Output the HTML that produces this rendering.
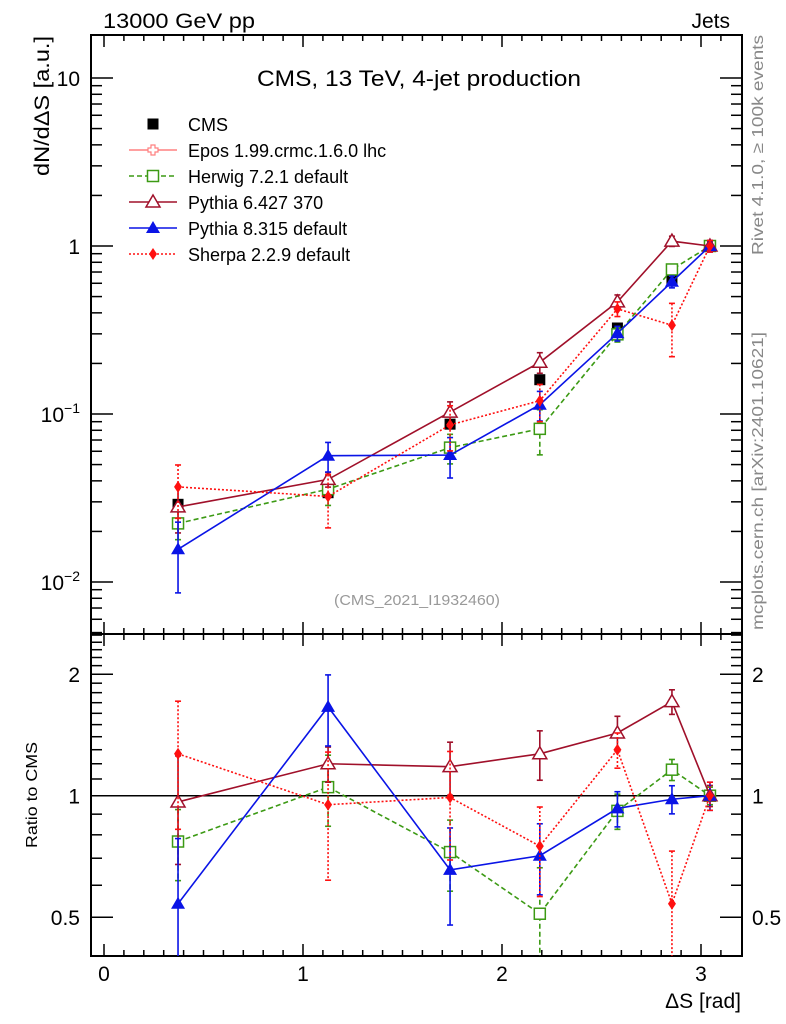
<!DOCTYPE html>
<html><head><meta charset="utf-8"><style>
body{margin:0;background:#fff;}
svg{display:block;font-family:"Liberation Sans",sans-serif;}
</style></head><body>
<svg id="c" width="786" height="1024" xmlns="http://www.w3.org/2000/svg">
<defs>
<clipPath id="cm"><rect x="91" y="35" width="651" height="599"/></clipPath>
<clipPath id="cr"><rect x="91" y="634" width="651" height="322"/></clipPath>
</defs>
<text x="103" y="28" font-size="21" textLength="152" lengthAdjust="spacingAndGlyphs">13000 GeV pp</text>
<text x="730" y="28" font-size="21" text-anchor="end">Jets</text>
<text x="257" y="86" font-size="22" textLength="324" lengthAdjust="spacingAndGlyphs">CMS, 13 TeV, 4-jet production</text>
<text x="334" y="605" font-size="15" fill="#999" textLength="166" lengthAdjust="spacingAndGlyphs">(CMS_2021_I1932460)</text>
<text transform="translate(49,36) rotate(-90)" font-size="21" text-anchor="end" textLength="140" lengthAdjust="spacingAndGlyphs">dN/dΔS [a.u.]</text>
<text transform="translate(37,848) rotate(-90)" font-size="16" textLength="106" lengthAdjust="spacingAndGlyphs">Ratio to CMS</text>
<text x="741" y="1008" font-size="21" text-anchor="end">ΔS [rad]</text>
<text transform="translate(763,255) rotate(-90)" font-size="16" fill="#888" textLength="220" lengthAdjust="spacingAndGlyphs">Rivet 4.1.0, ≥ 100k events</text>
<text transform="translate(763,630) rotate(-90)" font-size="16" fill="#888" textLength="298" lengthAdjust="spacingAndGlyphs">mcplots.cern.ch [arXiv:2401.10621]</text>
<g id="axes"></g>
<g id="marks"></g>
<g id="legend"></g>
</svg>
<script>
const xVals = [0.372, 1.126, 1.739, 2.19, 2.58, 2.854, 3.045];
const cmsVals = [0.029, 0.034, 0.087, 0.16, 0.325, 0.625, 1.0];
const cmsRelErr = [0.06, 0.05, 0.05, 0.05, 0.04, 0.04, 0.03];
const herwigRatio = [0.77, 1.05, 0.725, 0.51, 0.917, 1.16, 1.0];
const herwigRelErr = [0.2, 0.2, 0.2, 0.3, 0.1, 0.06, 0.05];
const py6Ratio = [0.965, 1.2, 1.18, 1.27, 1.43, 1.71, 1.0];
const py6RelErr = [0.3, 0.1, 0.15, 0.14, 0.1, 0.07, 0.06];
const py8Ratio = [0.54, 1.66, 0.655, 0.71, 0.93, 0.98, 1.0];
const py8RelErr = [0.45, 0.2, 0.27, 0.2, 0.1, 0.08, 0.08];
const sherpaRatio = [1.27, 0.95, 0.99, 0.75, 1.3, 0.54, 1.0];
const sherpaRelErr = [0.35, 0.35, 0.3, 0.25, 0.1, 0.35, 0.08];
const mainYTicks = [0.01, 0.1, 1, 10];
const mainYLabels = ["10⁻²", "10⁻¹", "1", "10"];
const ratioYTicks = [0.5, 1, 2];
const ratioYLabels = ["0.5", "1", "2"];
const xTicks = [0, 1, 2, 3];

const NS = "http://www.w3.org/2000/svg";
const L = 91, R = 742, T = 35, M = 634, B = 956;
const xs = v => 104 + 199 * v;
const ym = v => 246 - 168 * Math.log10(v);
const yr = v => 795.7 - 121.5 * Math.log2(v);
function mk(tag, attrs, parent) { const e = document.createElementNS(NS, tag); for (const k in attrs) e.setAttribute(k, attrs[k]); parent.appendChild(e); return e; }
const axes = document.getElementById('axes'), marks = document.getElementById('marks'), leg = document.getElementById('legend');

let f = mk('rect', {x: L, y: T, width: R - L, height: M - T, fill: 'none', stroke: '#000', 'stroke-width': 2}, axes);
 
f = mk('rect', {x: L, y: M, width: R - L, height: B - M, fill: 'none', stroke: '#000', 'stroke-width': 2}, axes);
 

for (let i = 0; i <= 31; i++) {
  const v = i / 10, x = xs(v); if (x > R) break;
  const len = i % 10 === 0 ? 12 : 6;
  [[T, 1], [M, -1], [M, 1], [B, -1]].forEach(([y0, d]) => mk('line', {x1: x, x2: x, y1: y0, y2: y0 + d * len, stroke: '#000', 'stroke-width': 1.5}, axes));
}
xTicks.forEach(v => { const t = mk('text', {x: xs(v), y: 981, 'font-size': 21, 'text-anchor': 'middle'}, axes); t.textContent = v;
    });

for (let e = -3; e <= 1; e++) for (let m = 1; m <= 9; m++) {
  const v = m * Math.pow(10, e), y = ym(v); if (y < T || y > M) continue;
  const len = m === 1 ? 22 : 11;
  mk('line', {x1: L, x2: L + len, y1: y, y2: y, stroke: '#000', 'stroke-width': 1.5}, axes);
  mk('line', {x1: R, x2: R - len, y1: y, y2: y, stroke: '#000', 'stroke-width': 1.5}, axes);
}
mainYTicks.forEach((v, i) => {
  const t = mk('text', {x: 80, y: ym(v) + 8, 'font-size': 21, 'text-anchor': 'end'}, axes);
  if (v < 1) { t.textContent = '10'; const s = mk('tspan', {dy: -9, 'font-size': 14}, t); s.textContent = v === 0.01 ? '−2' : '−1'; }
  else t.textContent = mainYLabels[i];
   
});
for (let i = 4; i <= 25; i++) {
  const v = i / 10, y = yr(v); if (y < M || y > B) continue;
  const len = (i === 5 || i === 10 || i === 20) ? 22 : 11;
  mk('line', {x1: L, x2: L + len, y1: y, y2: y, stroke: '#000', 'stroke-width': 1.5}, axes);
  mk('line', {x1: R, x2: R - len, y1: y, y2: y, stroke: '#000', 'stroke-width': 1.5}, axes);
}
ratioYTicks.forEach((v, i) => {
  let t = mk('text', {x: 80, y: yr(v) + 8, 'font-size': 21, 'text-anchor': 'end'}, axes); t.textContent = ratioYLabels[i];
   
  t = mk('text', {x: 752, y: yr(v) + 8, 'font-size': 21}, axes); t.textContent = ratioYLabels[i];
   
});
let ref = mk('line', {x1: L, x2: R, y1: yr(1), y2: yr(1), stroke: '#000', 'stroke-width': 1.5}, axes);
 

function marker(g, type, x, y, color) {
  if (type === 'fsq') mk('rect', {x: x - 5.5, y: y - 5.5, width: 11, height: 11, fill: '#000'}, g);
  else if (type === 'osq') mk('rect', {x: x - 5.5, y: y - 5.5, width: 11, height: 11, fill: '#fff', stroke: color, 'stroke-width': 1.5}, g);
  else if (type === 'otri') mk('path', {d: `M${x},${y - 7}L${x + 7},${y + 5}L${x - 7},${y + 5}Z`, fill: '#fff', stroke: color, 'stroke-width': 1.5}, g);
  else if (type === 'ftri') mk('path', {d: `M${x},${y - 7}L${x + 7},${y + 5}L${x - 7},${y + 5}Z`, fill: color}, g);
  else if (type === 'dia') mk('path', {d: `M${x},${y - 6}L${x + 4},${y}L${x},${y + 6}L${x - 4},${y}Z`, fill: color}, g);
  else if (type === 'cross') mk('path', {d: `M${x-2},${y-5}h4v3h3v4h-3v3h-4v-3h-3v-4h3Z`, fill: '#fff', stroke: color, 'stroke-width': 1.2}, g);
}
function series(name, ratio, rel, color, dash, type) {
  [['main', ym, 'cm', i => ratio[i] * cmsVals[i]], ['ratio', yr, 'cr', i => ratio[i]]].forEach(([pn, ys, clip, val]) => {
    const g = mk('g', {'clip-path': `url(#${clip})`}, marks);
     
    const pts = xVals.map((x, i) => xs(x) + ',' + ys(val(i))).join(' ');
    mk('polyline', {points: pts, fill: 'none', stroke: color, 'stroke-width': 1.6, 'stroke-dasharray': dash}, g);
    xVals.forEach((x, i) => {
      const v = val(i), e = v * rel[i], lo = Math.max(v - e, 1e-4), X = xs(x);
      mk('line', {x1: X, x2: X, y1: ys(v + e), y2: ys(lo), stroke: color, 'stroke-width': 1.6, 'stroke-dasharray': dash}, g);
      mk('line', {x1: X - 3, x2: X + 3, y1: ys(v + e), y2: ys(v + e), stroke: color, 'stroke-width': 1.6}, g);
      mk('line', {x1: X - 3, x2: X + 3, y1: ys(lo), y2: ys(lo), stroke: color, 'stroke-width': 1.6}, g);
      marker(g, type, X, ys(v), color);
    });
  });
}
const gc = mk('g', {'clip-path': 'url(#cm)'}, marks);
 
xVals.forEach((x, i) => {
  const v = cmsVals[i], e = v * cmsRelErr[i];
  mk('line', {x1: xs(x), x2: xs(x), y1: ym(v + e), y2: ym(v - e), stroke: '#000', 'stroke-width': 1.5}, gc);
  marker(gc, 'fsq', xs(x), ym(v), '#000');
});
series('herwig', herwigRatio, herwigRelErr, '#3c9a14', '5,3', 'osq');
series('pythia6', py6Ratio, py6RelErr, '#a0102a', '', 'otri');
series('pythia8', py8Ratio, py8RelErr, '#0a14e6', '', 'ftri');
series('sherpa', sherpaRatio, sherpaRelErr, '#ff1010', '2,2', 'dia');

const entries = [['CMS', '#000', '', 'fsq', false], ['Epos 1.99.crmc.1.6.0 lhc', '#ff8080', '', 'cross', true],
  ['Herwig 7.2.1 default', '#3c9a14', '5,3', 'osq', true], ['Pythia 6.427 370', '#a0102a', '', 'otri', true],
  ['Pythia 8.315 default', '#0a14e6', '', 'ftri', true], ['Sherpa 2.2.9 default', '#ff1010', '2,2', 'dia', true]];
entries.forEach((en, i) => {
  const y = 124 + i * 26;
  const g = mk('g', {}, leg);
   
  if (en[4]) mk('line', {x1: 129, x2: 177, y1: y, y2: y, stroke: en[1], 'stroke-width': 1.6, 'stroke-dasharray': en[2]}, g);
  marker(g, en[3], 153, y, en[1]);
  const t = mk('text', {x: 188, y: y + 7, 'font-size': 18}, g); t.textContent = en[0];
});
</script>
</body></html>
